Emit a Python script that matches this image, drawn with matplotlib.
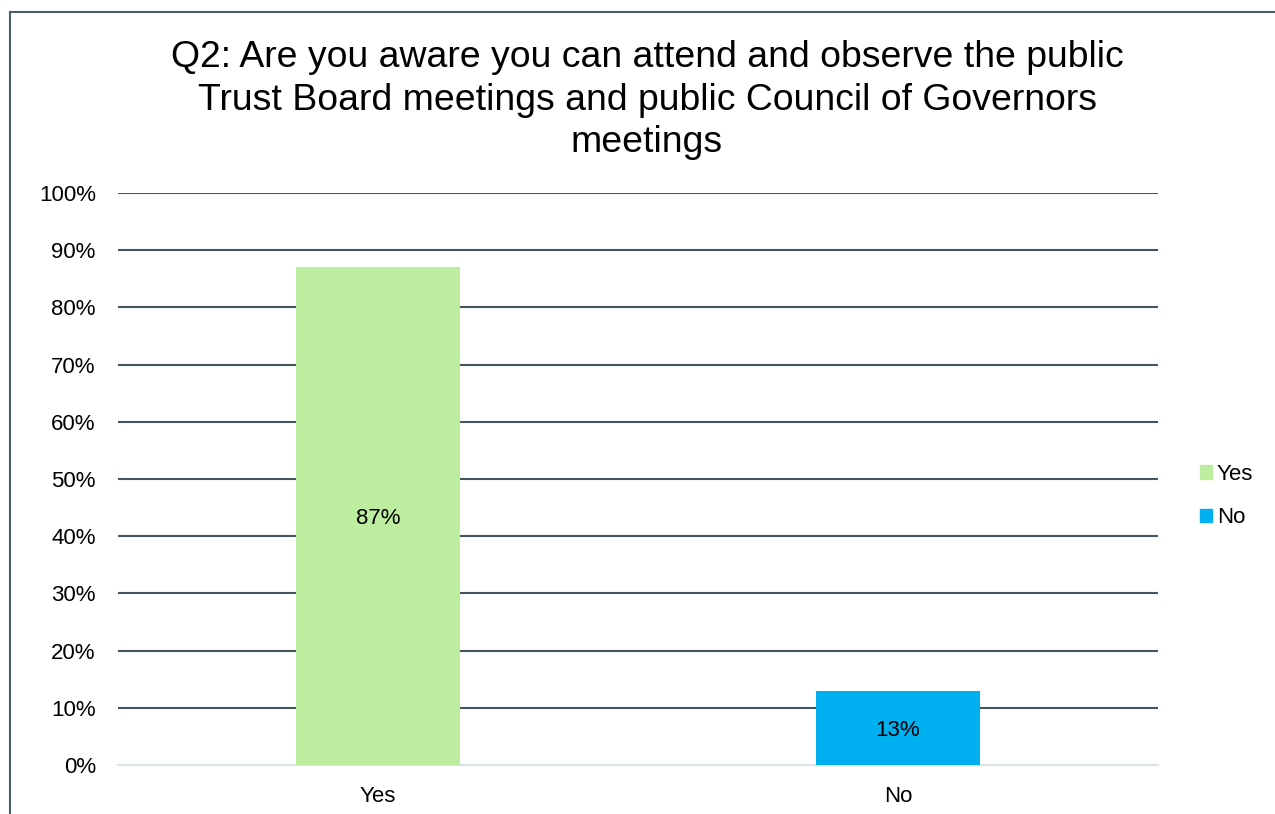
import matplotlib
matplotlib.use("Agg")
import matplotlib.pyplot as plt
from matplotlib.patches import Rectangle
from matplotlib.lines import Line2D

plt.rcParams['font.family'] = ['Liberation Sans', 'DejaVu Sans']

categories = ["Yes", "No"]
values = [87, 13]
colors = ["#bdee9f", "#00b0f0"]
yticks = [0, 10, 20, 30, 40, 50, 60, 70, 80, 90, 100]
title = ("Q2: Are you aware you can attend and observe the public\n"
         "Trust Board meetings and public Council of Governors\n"
         "meetings")

W, H = 1275, 814
fig = plt.figure(figsize=(W / 100, H / 100), dpi=100)

# outer chart frame (left and top edges visible)
fig.add_artist(Line2D([9.5 / W, 9.5 / W], [0, 1 - 11.5 / H], transform=fig.transFigure,
                      color="#4a5f66", lw=1.5))
fig.add_artist(Line2D([9.5 / W, 1], [1 - 11.5 / H, 1 - 11.5 / H], transform=fig.transFigure,
                      color="#4a5f66", lw=1.5))

left, right, bottom, top = 118, 1158, 765, 193
ax = fig.add_axes([left / W, 1 - bottom / H, (right - left) / W, (bottom - top) / H])

x = list(range(len(categories)))
bars = ax.bar(x, values, width=0.315, color=colors, zorder=3)
ax.set_xlim(-0.5, len(categories) - 0.5)
ax.set_ylim(0, 100)
ax.set_yticks(yticks)
ax.set_yticklabels([f"{t}%" for t in yticks], fontsize=16)
ax.set_xticks(x)
ax.set_xticklabels(categories, fontsize=16)
ax.tick_params(axis="both", length=0)
ax.tick_params(axis="x", pad=15)
ax.tick_params(axis="y", pad=16)

for t in yticks[1:]:
    ax.axhline(t, color="#44575e", lw=1.5, zorder=1)
for s in ["top", "right", "left"]:
    ax.spines[s].set_visible(False)
ax.spines["bottom"].set_color("#d9e3e6")
ax.spines["bottom"].set_linewidth(1.5)

for b, v in zip(bars, values):
    ax.annotate(f"{v}%", (b.get_x() + b.get_width() / 2, v / 2), xytext=(0, -2),
                textcoords="offset points", ha="center", va="center",
                fontsize=16, color="black", zorder=4)

fig.text(647 / W, 1 - 100 / H, title, ha="center", va="center", fontsize=26.9,
         linespacing=1.26)

handles = [Rectangle((0, 0), 1, 1, color=c) for c in colors]
fig.legend(handles, categories, loc="center left", bbox_to_anchor=(1180 / W, 1 - 496 / H),
           frameon=False, fontsize=16, handlelength=0.55, handleheight=0.55,
           handletextpad=0.2, labelspacing=1.0)

fig.savefig("out.png", dpi=100)
